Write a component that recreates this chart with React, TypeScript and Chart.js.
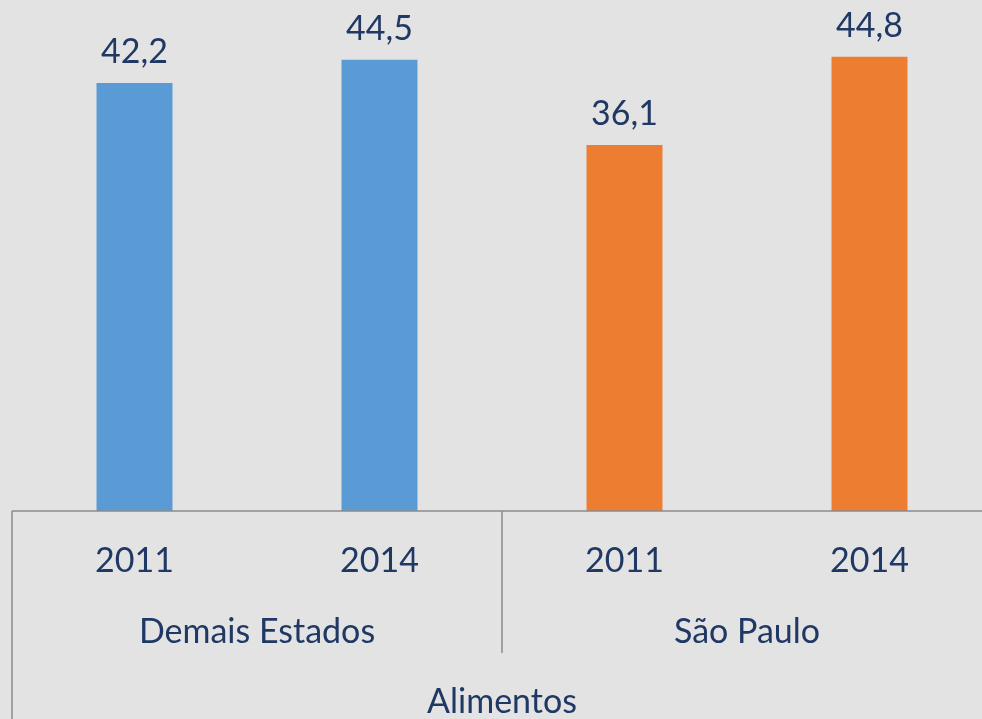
import React, { useEffect, useRef } from "react";
import { Chart, registerables } from "chart.js";

Chart.register(...registerables);

const years = ["2011", "2014", "2011", "2014"];
const groups = ["Demais Estados", "São Paulo"];
const topLabel = "Alimentos";
const values = [42.2, 44.5, 36.1, 44.8];
const barColors = ["#5b9bd5", "#5b9bd5", "#ed7d31", "#ed7d31"];
const valueLabels = ["42,2", "44,5", "36,1", "44,8"];

const TEXT = "#1f3864";
const LINE = "#8c8c8c";
const FONT = "34px Lato, 'Open Sans', sans-serif";

const axisPlugin = {
  id: "multiAxis",
  afterDraw(chart: any) {
    const ctx = chart.ctx;
    const area = chart.chartArea;
    const x = chart.scales.x;
    const H = chart.height;
    ctx.save();
    ctx.strokeStyle = LINE;
    ctx.lineWidth = 1.5;
    ctx.beginPath();
    ctx.moveTo(area.left, area.bottom);
    ctx.lineTo(area.right, area.bottom);
    ctx.moveTo(area.left, area.bottom);
    ctx.lineTo(area.left, H);
    ctx.moveTo(area.right, area.bottom);
    ctx.lineTo(area.right, H);
    const mid = (x.getPixelForValue(1) + x.getPixelForValue(2)) / 2;
    ctx.moveTo(mid, area.bottom);
    ctx.lineTo(mid, area.bottom + 142);
    ctx.stroke();

    ctx.fillStyle = TEXT;
    ctx.font = FONT;
    ctx.textAlign = "center";
    ctx.textBaseline = "alphabetic";
    years.forEach((y, i) => {
      ctx.fillText(y, x.getPixelForValue(i), area.bottom + 61);
    });
    groups.forEach((g, gi) => {
      const cx = (x.getPixelForValue(gi * 2) + x.getPixelForValue(gi * 2 + 1)) / 2;
      ctx.fillText(g, cx, area.bottom + 132);
    });
    ctx.fillText(topLabel, (area.left + area.right) / 2, area.bottom + 202);

    const meta = chart.getDatasetMeta(0);
    meta.data.forEach((bar: any, i: number) => {
      ctx.fillText(valueLabels[i], bar.x, bar.y - 20);
    });
    ctx.restore();
  },
};

export default function App() {
  const ref = useRef<HTMLCanvasElement>(null);
  useEffect(() => {
    if (!ref.current) return;
    const chart = new Chart(ref.current, {
      type: "bar",
      data: {
        labels: years.map((y, i) => y + "_" + i),
        datasets: [
          {
            data: values,
            backgroundColor: barColors,
            borderWidth: 0,
            categoryPercentage: 1,
            barPercentage: 0.31,
          },
        ],
      },
      options: {
        animation: false,
        responsive: false,
        layout: { padding: { left: 12, right: 8, top: 4, bottom: 208 } },
        plugins: { legend: { display: false }, tooltip: { enabled: false } },
        scales: {
          x: { display: false, offset: true },
          y: { display: false, min: 0, max: 50 },
        },
      },
      plugins: [axisPlugin],
    });
    return () => chart.destroy();
  }, []);
  return (
    <div
      style={{
        position: "fixed",
        left: 0,
        top: 0,
        width: 982,
        height: 719,
        overflow: "hidden",
        background: "#e3e3e3",
      }}
    >
      <canvas ref={ref} width={1000} height={719} style={{ display: "block" }} />
    </div>
  );
}
